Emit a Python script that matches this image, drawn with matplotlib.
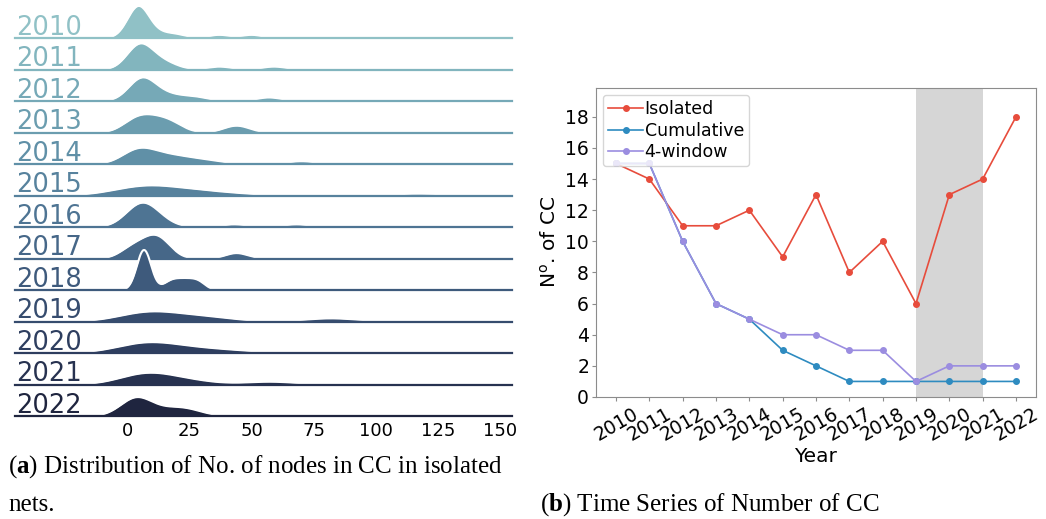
import matplotlib
matplotlib.use("Agg")
import matplotlib.pyplot as plt
import seaborn as sns

# ---- data ----
years = list(range(2010, 2023))
# estimated CC sizes (nodes per connected component) in each isolated yearly net
cc_sizes = {
    2010: [2, 3, 3, 4, 4, 5, 5, 5, 6, 7, 8, 14, 20, 37, 50],
    2011: [2, 3, 4, 4, 5, 6, 6, 7, 9, 11, 14, 18, 37, 59],
    2012: [3, 4, 5, 6, 7, 8, 10, 14, 20, 28, 57],
    2013: [0, 3, 5, 7, 9, 12, 14, 17, 20, 42, 46],
    2014: [1, 3, 4, 5, 7, 10, 13, 17, 21, 26, 34, 70],
    2015: [1, 4, 6, 9, 14, 20, 28, 40, 117],
    2016: [2, 3, 4, 5, 6, 6, 7, 8, 9, 11, 14, 43, 68],
    2017: [0, 4, 7, 10, 12, 13, 16, 44],
    2018: [6, 6, 7, 7, 7, 8, 17, 21, 25, 29],
    2019: [2, 8, 13, 22, 35, 82],
    2020: [1, 3, 5, 7, 9, 10, 13, 17, 22, 28, 35, 45, 140],
    2021: [1, 3, 5, 7, 8, 10, 12, 15, 18, 24, 30, 55, 60, 120],
    2022: [0, 1, 2, 3, 3, 4, 4, 5, 6, 7, 9, 14, 18, 20, 22, 25, 28, 91],
}
ridge_ticks = [0, 25, 50, 75, 100, 125, 150]

isolated = [15, 14, 11, 11, 12, 9, 13, 8, 10, 6, 13, 14, 18]
cumulative = [15, 15, 10, 6, 5, 3, 2, 1, 1, 1, 1, 1, 1]
window4 = [15, 15, 10, 6, 5, 4, 4, 3, 3, 1, 2, 2, 2]
shade = (2019, 2021)

RED = "#e74c3c"; BLUE = "#2e8bc0"; PURPLE = "#9b8de0"; SPINE = "#8c8c8c"

W, H = 1046, 519
fig = plt.figure(figsize=(W / 100, H / 100), dpi=100)
plt.rcParams["mathtext.fontset"] = "custom"
plt.rcParams["mathtext.rm"] = "Liberation Serif"
plt.rcParams["mathtext.bf"] = "Liberation Serif:bold"

# ---- (a) ridge plot ----
pal = sns.cubehelix_palette(len(years), rot=-.25, light=.7)
XMIN, XMAX = -45, 154.6
left, right = 15, 512
base0, step, row_h = 38, 31.5, 32
axes = []
for i, yr in enumerate(years):
    base = base0 + step * i
    ax = fig.add_axes([left / W, 1 - base / H, (right - left) / W, row_h / H])
    ax.patch.set_alpha(0)
    c = pal[i]
    sns.kdeplot(x=cc_sizes[yr], ax=ax, bw_adjust=.5, clip=(XMIN, XMAX), fill=True,
                alpha=1, linewidth=0, color=c, clip_on=False)
    sns.kdeplot(x=cc_sizes[yr], ax=ax, bw_adjust=.5, clip=(XMIN, XMAX), color="w",
                lw=1.5, clip_on=False)
    ax.axhline(0, color=c, lw=1.6, clip_on=False)
    ax.annotate(str(yr), xy=(0.003, 0), xycoords=ax.get_yaxis_transform(),
                xytext=(0, 2.5), textcoords="offset points", color=c, fontsize=18.5,
                ha="left", va="baseline")
    ax.set_xlim(XMIN, XMAX)
    ax.set_ylabel(""); ax.set_yticks([])
    for s in ax.spines.values():
        s.set_visible(False)
    if yr != years[-1]:
        ax.set_xticks([])
    else:
        ax.set_xticks(ridge_ticks)
        ax.tick_params(axis="x", length=0, labelsize=13, pad=4)
    ax.set_xlabel("")
    axes.append(ax)

peak = max(ln.get_ydata().max() for ax in axes for ln in ax.lines[:1])
for ax in axes:
    ax.set_ylim(0, peak * row_h / 40)

# ---- (b) time series ----
ax2 = fig.add_axes([596 / W, 1 - 397 / H, 440 / W, 309 / H])
ax2.axvspan(*shade, color="#d6d6d6", lw=0, zorder=0)
ax2.plot(years, isolated, color=RED, marker="o", ms=4, lw=1.2, label="Isolated")
ax2.plot(years, cumulative, color=BLUE, marker="o", ms=4, lw=1.2, label="Cumulative")
ax2.plot(years, window4, color=PURPLE, marker="o", ms=4, lw=1.2, label="4-window")
ax2.set_xticks(years)
ax2.set_xticklabels([str(y) for y in years], rotation=30)
ax2.set_yticks(range(0, 19, 2))
ax2.set_xlim(2009.4, 2022.6)
ax2.set_ylim(0, 19.85)
ax2.tick_params(labelsize=13.5, length=3, color=SPINE, pad=2)
for s in ax2.spines.values():
    s.set_color(SPINE)
ax2.set_xlabel("Year", fontsize=14.5, labelpad=2)
ax2.set_ylabel("N$^{\\mathregular{o}}$. of CC", fontsize=14.5, labelpad=4)
ax2.legend(loc="upper left", fontsize=12.5, handletextpad=0.1, borderaxespad=0.4,
           labelspacing=0.2, borderpad=0.3)

# ---- captions ----
cap = dict(fontsize=18, family="Liberation Serif", va="center", ha="left")
fig.text(8 / W, 1 - 467 / H, r"($\mathbf{a}$) Distribution of No. of nodes in CC in isolated", **cap)
fig.text(8 / W, 1 - 505 / H, "nets.", **cap)
fig.text(540 / W, 1 - 505 / H, r"($\mathbf{b}$) Time Series of Number of CC", **cap)

fig.savefig("out.png", dpi=100)
